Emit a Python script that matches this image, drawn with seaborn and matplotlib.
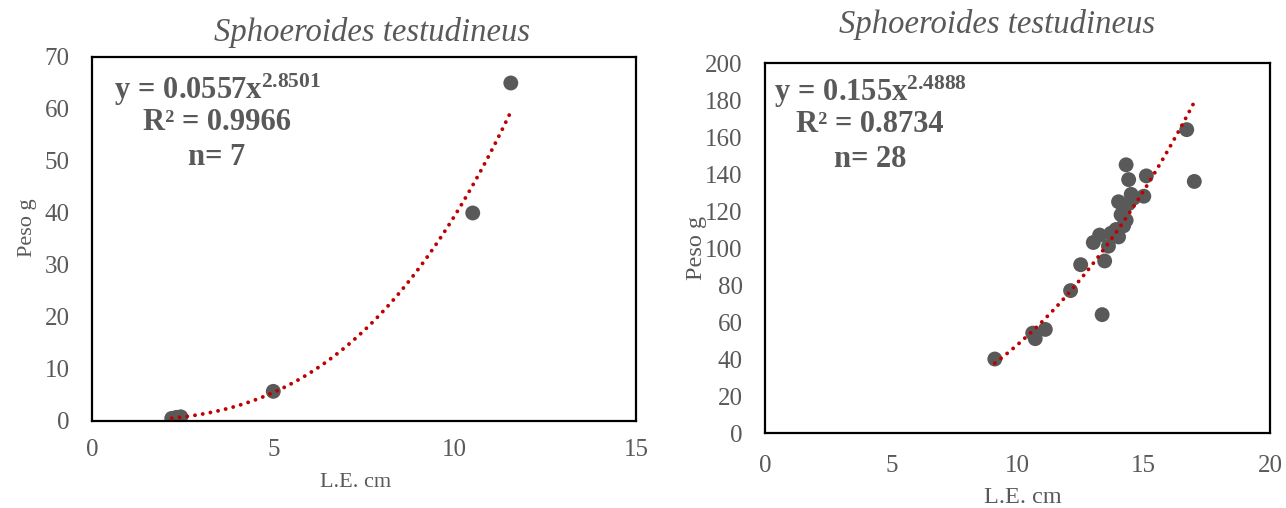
import numpy as np
import pandas as pd
import matplotlib
matplotlib.use("Agg")
import matplotlib.pyplot as plt
import seaborn as sns

species = "Sphoeroides testudineus"
x_label = "L.E. cm"
y_label = "Peso g"

# Sample 1 (n = 7): length (cm) vs weight (g)
le_1 = [2.2, 2.3, 2.35, 2.45, 5.0, 10.5, 11.55]
peso_1 = [0.5, 0.6, 0.7, 0.8, 5.7, 40.0, 65.0]
coef_a_1, coef_b_1, r2_1 = 0.0557, 2.8501, 0.9966

# Sample 2 (n = 28)
le_2 = [9.1, 10.6, 10.7, 11.1, 12.1, 12.5, 13.35, 13.45, 13.0, 13.25,
        13.6, 13.7, 14.0, 14.2, 14.3, 14.2, 14.0, 14.5, 15.0, 14.4,
        14.3, 15.1, 16.7, 17.0, 13.9, 14.1, 14.4, 14.6]
peso_2 = [40, 54, 51, 56, 77, 91, 64, 93, 103, 107,
          101, 108, 106, 112, 115, 120, 125, 129, 128, 137,
          145, 139, 164, 136, 110, 118, 124, 127]
coef_a_2, coef_b_2, r2_2 = 0.155, 2.4888, 0.8734

x_ticks_1 = [0, 5, 10, 15]
y_ticks_1 = list(range(0, 71, 10))
x_ticks_2 = [0, 5, 10, 15, 20]
y_ticks_2 = list(range(0, 201, 20))

sns.set_theme(style="white")
plt.rcParams["font.family"] = ["Liberation Serif", "DejaVu Serif"]
plt.rcParams["mathtext.fontset"] = "custom"
plt.rcParams["mathtext.rm"] = "Liberation Serif"
plt.rcParams["mathtext.bf"] = "Liberation Serif:bold"
plt.rcParams["mathtext.it"] = "Liberation Serif:italic"

GREY = "#595959"
TREND = "#C00000"

fig = plt.figure(figsize=(12.86, 5.08), dpi=100)
ax1 = fig.add_axes([0.0715, 0.1713, 0.423, 0.7165])
ax2 = fig.add_axes([0.5949, 0.1476, 0.3927, 0.7283])


def power_panel(ax, le, peso, a, b, r2, xticks, yticks, text_x, text_ys,
                title_xy, xlabel_xy, ylabel_xy, xtick_pad, label_size):
    df = pd.DataFrame({"le": le, "peso": peso})
    xs = np.linspace(min(le), max(le), 200)
    trend = pd.DataFrame({"le": xs, "peso": a * xs ** b})
    sns.lineplot(data=trend, x="le", y="peso", ax=ax, color=TREND, lw=2.8,
                 linestyle=(0, (0.01, 2.0)), dash_capstyle="round", zorder=3)
    sns.scatterplot(data=df, x="le", y="peso", ax=ax, color=GREY, s=115,
                    edgecolor="none", linewidth=0, zorder=2)
    ax.set_xlim(xticks[0], xticks[-1])
    ax.set_ylim(yticks[0], yticks[-1])
    ax.set_xticks(xticks)
    ax.set_yticks(yticks)
    ax.tick_params(axis="both", length=0, labelsize=18, labelcolor=GREY)
    ax.tick_params(axis="x", pad=xtick_pad)
    ax.tick_params(axis="y", pad=16)
    for sp in ax.spines.values():
        sp.set_color("black")
        sp.set_linewidth(1.6)
    ax.set_xlabel(x_label, fontsize=label_size, color=GREY)
    ax.set_ylabel(y_label, fontsize=label_size, color=GREY)
    ax.xaxis.set_label_coords(*xlabel_xy)
    ax.yaxis.set_label_coords(*ylabel_xy)
    ax.set_title(species, fontsize=23.5, style="italic", color=GREY,
                 x=title_xy[0], y=title_xy[1], va="center", pad=0)
    eq = f"$\\mathbf{{y\\,=\\,{a}x^{{{b}}}}}$"
    lines = [eq, f"R\u00b2 = {r2:.4f}", f"n= {len(le)}"]
    for txt, yy in zip(lines, text_ys):
        ax.text(text_x, yy, txt, transform=ax.transAxes, ha="center",
                va="center", fontsize=22, fontweight="bold", color=GREY)


power_panel(ax1, le_1, peso_1, coef_a_1, coef_b_1, r2_1, x_ticks_1, y_ticks_1,
            0.23, [0.91, 0.819, 0.723], title_xy=(0.515, 1.066),
            xlabel_xy=(0.485, -0.142), ylabel_xy=(-0.101, 0.53), xtick_pad=13,
            label_size=16)
power_panel(ax2, le_2, peso_2, coef_a_2, coef_b_2, r2_2, x_ticks_2, y_ticks_2,
            0.208, [0.922, 0.834, 0.738], title_xy=(0.459, 1.103),
            xlabel_xy=(0.511, -0.146), ylabel_xy=(-0.115, 0.50), xtick_pad=16,
            label_size=17.5)

fig.savefig("out.png", dpi=100)
